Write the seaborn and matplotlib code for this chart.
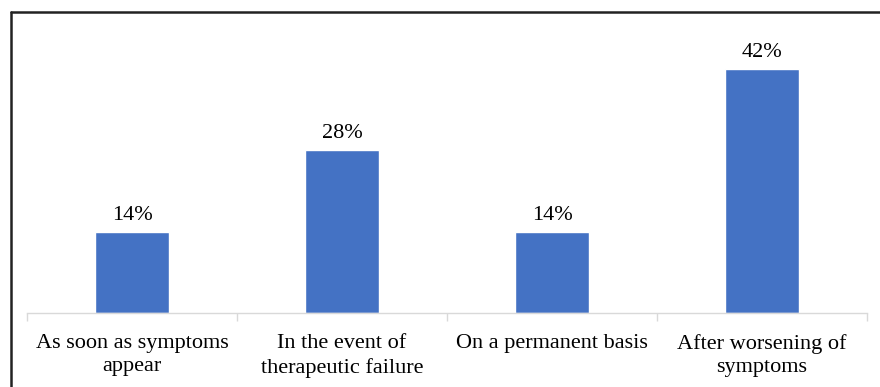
import matplotlib
matplotlib.use("Agg")
import matplotlib.pyplot as plt
from matplotlib.lines import Line2D
import seaborn as sns
import pandas as pd

categories = ["As soon as symptoms\nappear", "In the event of\ntherapeutic failure",
              "On a permanent basis", "After worsening of\nsymptoms"]
values = [14, 28, 14, 42]
value_labels = ["14%", "28%", "14%", "42%"]

sns.set_theme(style="white")
plt.rcParams["font.family"] = ["Liberation Serif", "DejaVu Serif"]

df = pd.DataFrame({"category": categories, "value": values})

W, H = 880, 387
fig = plt.figure(figsize=(W / 100, H / 100), dpi=100)
ax = fig.add_axes([27 / W, 74 / H, 840 / W, 290.5 / H])

sns.barplot(data=df, x="category", y="value", color="#4472C4", width=0.357,
            saturation=1, ax=ax)

ax.set_ylim(0, 50)
ax.set_xlim(-0.5, 3.5)
ax.set_xlabel("")
ax.set_ylabel("")
ax.set_yticks([])

for s in ["top", "right", "left"]:
    ax.spines[s].set_visible(False)
ax.spines["bottom"].set_color("#D9D9D9")
ax.spines["bottom"].set_linewidth(1.0)

ax.set_xticks(range(len(categories)))
ax.set_xticklabels(categories, linespacing=1.32)
ax.set_xticks([-0.5, 0.5, 1.5, 2.5, 3.5], minor=True)
ax.tick_params(axis="x", which="major", bottom=False, length=0, pad=15,
               labelsize=16, labelcolor="black")
ax.tick_params(axis="x", which="minor", bottom=True, length=6, width=1.0,
               color="#D9D9D9", direction="out")

for i, (v, lab) in enumerate(zip(values, value_labels)):
    ax.annotate(lab, (i, v), xytext=(0, 5), textcoords="offset points",
                ha="center", va="bottom", fontsize=16, color="black")

# outer frame: top and left edges
fig.add_artist(Line2D([11 / W, 1], [1 - 12 / H, 1 - 12 / H], transform=fig.transFigure,
                      color="#222222", linewidth=1.8))
fig.add_artist(Line2D([11 / W, 11 / W], [0, 1 - 12 / H], transform=fig.transFigure,
                      color="#222222", linewidth=1.8))

fig.savefig("out.png", dpi=100, facecolor="white")
